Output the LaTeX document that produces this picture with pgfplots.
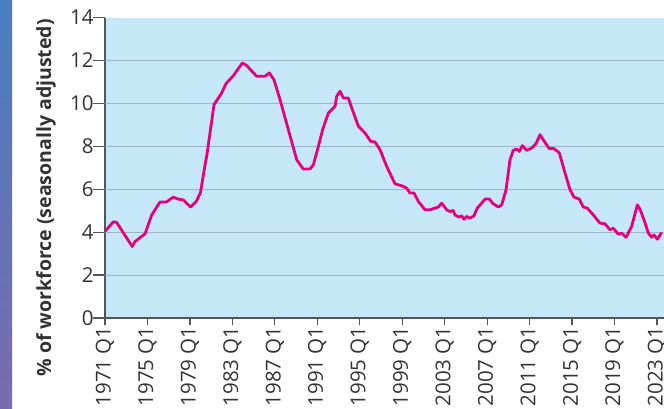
\documentclass[border=0pt]{standalone}
\usepackage{pgfplots}
\pgfplotsset{compat=1.18}
\usepackage{fontspec}
\setmainfont{Open Sans}
\definecolor{bgblue}{HTML}{C6E7F7}
\definecolor{gridc}{HTML}{9AB5C6}
\definecolor{magentaline}{HTML}{E5007D}
\definecolor{axisgray}{HTML}{555555}
\definecolor{textgray}{HTML}{333333}
\definecolor{stripT}{HTML}{4A7EC0}
\definecolor{stripB}{HTML}{7A6CB0}
\begin{document}
\begin{tikzpicture}[x=1pt,y=1pt]
\shade[top color=stripT, bottom color=stripB] (0,0) rectangle (12,408);
\begin{axis}[
  at={(105pt,90pt)}, anchor=south west,
  scale only axis,
  width=559pt, height=300.5pt,
  xmin=1971, xmax=2023.66,
  ymin=0, ymax=14,
  axis x line*=bottom, axis y line*=left,
  axis line style={draw=axisgray, line width=1.5pt},
  axis background/.style={fill=bgblue},
  tick align=outside,
  ytick={0,2,...,14},
  xtick={1971,1975,...,2023},
  xticklabels={1971 Q1,1975 Q1,1979 Q1,1983 Q1,1987 Q1,1991 Q1,1995 Q1,1999 Q1,2003 Q1,2007 Q1,2011 Q1,2015 Q1,2019 Q1,2023 Q1},
  extra y ticks={2,4,...,12},
  extra y tick labels={},
  extra y tick style={grid=major, /pgfplots/major tick length=0pt},
  grid style={draw=gridc, line width=1pt},
  ytick style={draw=axisgray, line width=1.2pt, /pgfplots/major tick length=12pt},
  xtick style={draw=axisgray, line width=1.2pt, /pgfplots/major tick length=7pt},
  /pgf/number format/assume math mode=true,
  ticklabel style={font=\fontsize{20.5}{21}\selectfont, text=textgray},
  xticklabel style={rotate=90, anchor=east, inner sep=4pt},
  yticklabel style={inner sep=1pt, xshift=-6pt},
  ylabel={\% of workforce (seasonally adjusted)},
  ylabel style={at={(axis description cs:-0.1055,0.40)}, anchor=center, font=\bfseries\fontsize{19.5}{20}\selectfont, text=textgray},
  clip=true,
]
\addplot[magentaline, line width=2.8pt, line join=round] coordinates {
(1971.0,4.03) (1971.78,4.48) (1972.1,4.45) (1973.57,3.33) (1973.83,3.56)
(1974.77,3.92) (1975.4,4.8) (1976.18,5.4) (1976.8,5.41) (1977.43,5.63)
(1977.9,5.54) (1978.38,5.5) (1978.75,5.32) (1979.07,5.17) (1979.6,5.43)
(1980.0,5.85) (1980.4,7.06) (1980.6,7.6) (1981.27,9.94) (1981.99,10.48)
(1982.4,10.92) (1983.09,11.29) (1983.94,11.88) (1984.35,11.76) (1985.29,11.26)
(1986.07,11.26) (1986.48,11.42) (1986.92,11.1) (1987.49,10.17) (1989.06,7.37)
(1989.68,6.94) (1990.31,6.94) (1990.63,7.14) (1991.1,7.99) (1991.5,8.77)
(1992.04,9.55) (1992.67,9.86) (1992.83,10.33) (1993.14,10.56) (1993.45,10.25)
(1993.92,10.25) (1994.24,9.79) (1994.87,8.93) (1995.49,8.62) (1996.03,8.23)
(1996.44,8.2) (1996.91,7.84) (1997.54,7.06) (1998.32,6.25) (1998.95,6.16)
(1999.42,6.05) (1999.73,5.82) (2000.11,5.82) (2000.52,5.43) (2001.15,5.04)
(2001.62,5.04) (2002.09,5.12) (2002.4,5.17) (2002.72,5.35) (2003.19,5.04)
(2003.5,4.96) (2003.81,5.01) (2003.97,4.8) (2004.38,4.7) (2004.6,4.76)
(2004.82,4.6) (2005.07,4.73) (2005.38,4.65) (2005.76,4.76) (2006.07,5.12)
(2006.49,5.35) (2006.8,5.54) (2007.2,5.54) (2007.58,5.32) (2008.05,5.17)
(2008.37,5.27) (2008.78,5.97) (2009.15,7.37) (2009.46,7.81) (2009.78,7.87)
(2010.03,7.76) (2010.31,8.03) (2010.73,7.81) (2011.2,7.92) (2011.6,8.12)
(2011.98,8.54) (2012.45,8.18) (2012.86,7.89) (2013.3,7.89) (2013.8,7.69)
(2014.34,6.75) (2014.81,5.97) (2015.18,5.63) (2015.68,5.54) (2016.06,5.17)
(2016.43,5.12) (2017.0,4.8) (2017.63,4.42) (2018.1,4.39) (2018.57,4.11)
(2018.88,4.18) (2019.36,3.9) (2019.67,3.95) (2020.08,3.76) (2020.61,4.26)
(2021.15,5.27) (2021.4,5.07) (2021.78,4.57) (2022.19,3.95) (2022.5,3.76)
(2022.72,3.87) (2023.03,3.67) (2023.44,3.98)
};
\end{axis}
\pgfresetboundingbox
\path (0,0) rectangle (664,408);
\end{tikzpicture}
\end{document}
